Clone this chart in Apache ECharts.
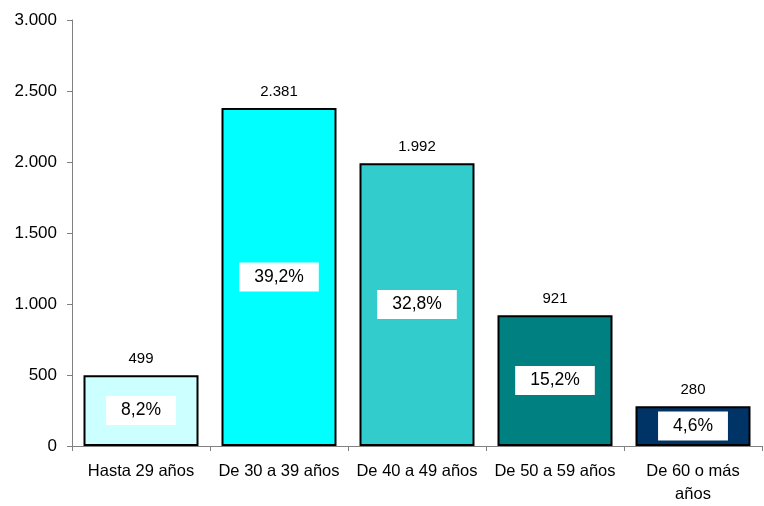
<!DOCTYPE html>
<html>
<head>
<meta charset="utf-8">
<script src="https://cdn.jsdelivr.net/npm/echarts@6/dist/echarts.min.js"></script>
<style>
html, body { margin: 0; padding: 0; background: #fff; }
#chart1 { width: 764px; height: 506px; }
</style>
</head>
<body>
<div id="chart1"></div>
<script>
var categories = ['Hasta 29 años', 'De 30 a 39 años', 'De 40 a 49 años', 'De 50 a 59 años', 'De 60 o más\naños'];
var values = [499, 2381, 1992, 921, 280];
var percents = ['8,2%', '39,2%', '32,8%', '15,2%', '4,6%'];
var barColors = ['#CCFFFF', '#00FFFF', '#33CCCC', '#008080', '#003366'];

var chart1 = echarts.init(document.getElementById('chart1'));

function fmt(n) {
    return String(n).replace(/\B(?=(\d{3})+(?!\d))/g, '.');
}

var mainData = [];
var pctData = [];
for (var i = 0; i < values.length; i++) {
    mainData.push({ value: values[i], itemStyle: { color: barColors[i] } });
    pctData.push({ value: values[i], pct: percents[i] });
}

var option = {
    animation: false,
    textStyle: { fontFamily: 'Liberation Sans, Arial, sans-serif' },
    grid: { left: 72, right: 2, top: 20, bottom: 59, containLabel: false },
    xAxis: {
        type: 'category',
        data: categories,
        axisLine: { lineStyle: { color: '#808080', width: 1 } },
        axisTick: { show: true, length: 5, alignWithLabel: false, lineStyle: { color: '#808080' } },
        axisLabel: { color: '#000', fontSize: 16.5, margin: 14, lineHeight: 23, interval: 0 }
    },
    yAxis: {
        type: 'value',
        min: 0,
        max: 3000,
        interval: 500,
        axisLine: { show: true, lineStyle: { color: '#808080' } },
        axisTick: { show: true, length: 5, lineStyle: { color: '#808080' } },
        splitLine: { show: false },
        axisLabel: { color: '#000', fontSize: 17, margin: 15, formatter: fmt }
    },
    series: [{
        type: 'bar',
        data: mainData,
        barWidth: 115,
        itemStyle: { borderColor: '#000', borderWidth: 2 },
        label: {
            show: true,
            position: 'top',
            distance: 9,
            color: '#000',
            fontSize: 15,
            formatter: function (p) { return fmt(p.value); }
        }
    }, {
        type: 'bar',
        data: pctData,
        barWidth: 115,
        barGap: '-100%',
        silent: true,
        itemStyle: { color: 'transparent' },
        label: {
            show: true,
            position: 'inside',
            color: '#000',
            fontSize: 17.5,
            backgroundColor: '#fff',
            padding: [6, 15, 5, 15],
            formatter: function (p) { return p.data.pct; }
        }
    }]
};
chart1.setOption(option, true);
</script>
</body>
</html>
